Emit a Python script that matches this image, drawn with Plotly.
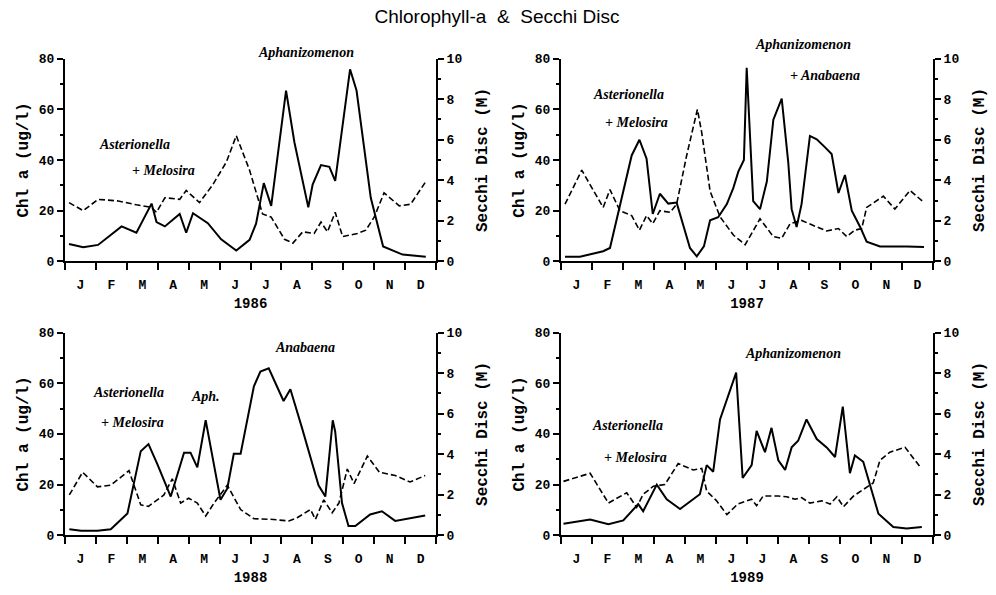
import plotly.graph_objects as go

# ---------------- data ----------------
months = ["J", "F", "M", "A", "M", "J", "J", "A", "S", "O", "N", "D"]
years = ["1986", "1987", "1988", "1989"]

# time in months from 1 January, Chl-a in ug/l
chl_t_1986 = [0.13, 0.59, 1.07, 1.83, 2.31, 2.80, 2.96, 3.23, 3.71, 3.92, 4.14, 4.62, 5.05, 5.54, 5.97,
              6.18, 6.43, 6.67, 7.15, 7.42, 7.87, 8.01, 8.28, 8.55, 8.74, 9.22, 9.43, 9.89, 10.29, 10.92, 11.67]
chl_1986 = [6.9, 5.6, 6.5, 13.8, 11.3, 22.8, 15.5, 13.8, 18.7, 11.3, 19.0, 15.1, 8.7, 4.3, 8.5,
            14.9, 30.9, 21.9, 67.4, 47.0, 21.3, 30.3, 38.0, 37.3, 31.8, 75.8, 67.4, 25.1, 5.9, 2.7, 1.8]
sd_t_1986 = [0.13, 0.59, 1.07, 1.72, 2.31, 2.80, 2.96, 3.23, 3.71, 3.92, 4.35, 4.78, 5.22, 5.54, 5.97,
             6.39, 6.67, 7.10, 7.37, 7.69, 8.06, 8.28, 8.49, 8.74, 8.98, 9.46, 9.73, 10.0, 10.32, 10.81, 11.18, 11.67]
sd_1986 = [2.9, 2.5, 3.06, 2.98, 2.79, 2.66, 2.42, 3.14, 3.06, 3.5, 2.9, 3.78, 4.9, 6.2, 4.5,
           2.34, 2.18, 1.09, 0.9, 1.46, 1.38, 1.94, 1.46, 2.42, 1.22, 1.38, 1.54, 2.18, 3.38, 2.74, 2.82, 3.94]

chl_t_1987 = [0.13, 0.61, 1.36, 1.58, 2.28, 2.53, 2.76, 2.96, 3.19, 3.46, 3.73, 4.16, 4.38, 4.61, 4.81,
              5.07, 5.35, 5.56, 5.72, 5.90, 5.99, 6.04, 6.20, 6.42, 6.64, 6.85, 7.12, 7.33, 7.44, 7.60, 7.76,
              8.03, 8.25, 8.52, 8.73, 8.95, 9.16, 9.38, 9.65, 9.86, 10.29, 11.15, 11.71]
chl_1987 = [1.8, 1.8, 4.0, 5.3, 41.8, 48.0, 40.5, 18.7, 26.7, 22.8, 23.2, 5.3, 2.0, 5.9, 16.2,
            17.4, 22.6, 29.0, 35.4, 40.0, 76.4, 63.6, 23.8, 20.6, 31.5, 55.9, 64.2, 39.2, 20.6, 13.6, 22.6,
            49.5, 48.2, 45.0, 42.4, 27.0, 34.1, 20.0, 13.6, 7.8, 5.9, 5.9, 5.7]
sd_t_1987 = [0.13, 0.67, 1.36, 1.58, 1.90, 2.28, 2.53, 2.76, 2.96, 3.19, 3.52, 3.73, 4.05, 4.40, 4.54,
             4.81, 5.13, 5.56, 5.94, 6.42, 6.85, 7.12, 7.39, 7.76, 8.25, 8.57, 8.95, 9.22, 9.48, 9.70, 9.86,
             10.40, 10.77, 11.26, 11.71]
sd_1987 = [2.82, 4.5, 2.66, 3.54, 2.5, 2.26, 1.54, 2.26, 1.86, 2.5, 2.42, 2.82, 5.2, 7.5, 6.35,
           3.46, 2.2, 1.3, 0.82, 2.1, 1.22, 1.14, 1.86, 2.02, 1.7, 1.5, 1.62, 1.22, 1.54, 1.62, 2.66,
           3.22, 2.58, 3.5, 2.9]

chl_t_1988 = [0.14, 0.52, 1.05, 1.48, 2.02, 2.45, 2.70, 2.99, 3.42, 3.85, 4.06, 4.28, 4.55, 4.71, 5.03,
              5.25, 5.46, 5.68, 6.11, 6.32, 6.59, 7.07, 7.29, 7.67, 7.94, 8.20, 8.42, 8.66, 8.74, 8.96,
              9.17, 9.39, 9.87, 10.25, 10.68, 11.11, 11.65]
chl_1988 = [2.4, 1.8, 1.8, 2.4, 8.6, 33.2, 36.0, 28.0, 15.3, 32.6, 32.6, 26.8, 45.4, 34.5, 14.0,
            18.5, 32.2, 32.2, 58.8, 64.6, 65.9, 53.0, 57.6, 42.2, 30.6, 19.7, 15.3, 45.4, 40.9, 12.7,
            3.7, 3.7, 8.2, 9.5, 5.7, 6.5, 7.8]
sd_t_1988 = [0.14, 0.57, 1.05, 1.48, 2.07, 2.45, 2.70, 3.20, 3.47, 3.74, 4.00, 4.28, 4.55, 4.82, 5.25,
             5.68, 6.11, 6.65, 7.24, 7.51, 7.94, 8.10, 8.37, 8.64, 8.86, 9.13, 9.35, 9.78, 10.17, 10.68,
             11.16, 11.65]
sd_1988 = [1.99, 3.11, 2.39, 2.47, 3.19, 1.5, 1.43, 1.99, 2.79, 1.59, 1.83, 1.59, 0.95, 1.59, 2.47,
           1.27, 0.82, 0.79, 0.71, 0.87, 1.27, 0.79, 1.75, 1.11, 1.59, 3.27, 2.55, 3.91, 3.11, 2.95,
           2.63, 2.95]

chl_t_1989 = [0.08, 0.94, 1.53, 2.01, 2.49, 2.65, 3.09, 3.41, 3.84, 4.48, 4.70, 4.91, 5.13, 5.35, 5.65,
              5.86, 6.15, 6.31, 6.58, 6.79, 7.01, 7.23, 7.44, 7.65, 7.92, 8.25, 8.57, 8.84, 9.09, 9.32,
              9.48, 9.75, 9.97, 10.24, 10.72, 11.15, 11.64]
chl_1989 = [4.6, 6.2, 4.4, 5.9, 12.3, 9.5, 20.0, 14.2, 10.4, 16.2, 27.7, 25.1, 45.7, 53.3, 64.2,
            22.6, 27.7, 41.2, 32.8, 42.4, 29.6, 25.8, 34.7, 37.3, 45.7, 38.0, 34.7, 30.9, 50.8, 24.5,
            31.5, 29.0, 20.0, 8.5, 3.3, 2.7, 3.3]
sd_t_1989 = [0.08, 0.94, 1.53, 2.12, 2.44, 2.65, 2.98, 3.35, 3.78, 4.27, 4.54, 4.70, 5.02, 5.35, 5.70,
             6.15, 6.31, 6.52, 7.01, 7.28, 7.55, 7.76, 8.03, 8.41, 8.68, 8.90, 9.11, 9.44, 9.75, 10.07,
             10.29, 10.61, 11.10, 11.58]
sd_1989 = [2.66, 3.06, 1.59, 2.1, 1.38, 2.02, 2.42, 2.5, 3.54, 3.22, 3.3, 2.18, 1.7, 1.02, 1.54,
           1.78, 1.46, 1.94, 1.94, 1.9, 1.78, 1.86, 1.59, 1.7, 1.54, 1.9, 1.41, 1.94, 2.26, 2.58,
           3.7, 4.1, 4.34, 3.38]

chl_t = [chl_t_1986, chl_t_1987, chl_t_1988, chl_t_1989]
chl = [chl_1986, chl_1987, chl_1988, chl_1989]
sd_t = [sd_t_1986, sd_t_1987, sd_t_1988, sd_t_1989]
sd = [sd_1986, sd_1987, sd_1988, sd_1989]

chl_ticks = [0, 20, 40, 60, 80]
chl_minor = [10, 30, 50, 70]
sd_ticks = [0, 2, 4, 6, 8, 10]
sd_minor = [1, 3, 5, 7, 9]
CHL_MAX = 80
SD_MAX = 10

# species labels per panel: (text, month, chl level)
species = [
    [("Asterionella", 2.26, 46.3), ("+ Melosira", 3.19, 35.8), ("Aphanizomenon", 7.81, 82.5)],
    [("Asterionella", 2.19, 65.9), ("+ Melosira", 2.42, 55.0), ("Aphanizomenon", 7.81, 85.4),
     ("+ Anabaena", 8.52, 73.2)],
    [("Asterionella", 2.06, 56.2), ("+ Melosira", 2.19, 44.6), ("Aph.", 4.55, 54.7), ("Anabaena", 7.77, 74.2)],
    [("Asterionella", 2.16, 43.5), ("+ Melosira", 2.39, 30.8), ("Aphanizomenon", 7.48, 71.9)],
]

# ---------------- layout ----------------
W, H = 996, 595
xdoms = [[65 / W, 436 / W], [561 / W, 933 / W], [65 / W, 436 / W], [561 / W, 933 / W]]
ytop = [1 - 262 / H, 1 - 54 / H]
ybot = [1 - 543 / H, 1 - 335 / H]
ydoms = [ytop, ytop, ybot, ybot]

MONO = "Liberation Mono, DejaVu Sans Mono, monospace"
tickfont = dict(family=MONO, size=13, color="black", weight="bold")
titlefont = dict(family=MONO, size=16, color="black", weight="bold")
labfont = dict(family="Liberation Serif, DejaVu Serif, serif", size=14, color="black",
               style="italic", weight="bold")

fig = go.Figure()
layout = dict(
    width=W, height=H, margin=dict(l=0, r=0, t=0, b=0),
    paper_bgcolor="white", plot_bgcolor="white", showlegend=False,
    title=dict(text="Chlorophyll-a\u00a0\u00a0&\u00a0\u00a0Secchi Disc", x=0.499, y=1 - 16 / H,
               xanchor="center", yanchor="middle",
               font=dict(family="Liberation Sans, Arial, sans-serif", size=19, color="black")),
)
annotations = []

for i in range(4):
    n = i + 1
    xa = "x" if n == 1 else f"x{n}"
    yl_n = 2 * i + 1
    yr_n = 2 * i + 2
    yl = "y" if yl_n == 1 else f"y{yl_n}"
    yr = f"y{yr_n}"

    fig.add_trace(go.Scatter(x=chl_t[i], y=chl[i], mode="lines", xaxis=xa, yaxis=yl,
                             line=dict(color="black", width=2), hoverinfo="skip"))
    fig.add_trace(go.Scatter(x=sd_t[i], y=sd[i], mode="lines", xaxis=xa, yaxis=yr,
                             line=dict(color="black", width=1.6, dash="6px,3px"), hoverinfo="skip"))

    layout["xaxis" if n == 1 else f"xaxis{n}"] = dict(
        domain=xdoms[i], anchor=yl, range=[0, 12], showgrid=False, zeroline=False,
        showline=True, linecolor="black", linewidth=2,
        tickmode="array", tickvals=[k + 0.5 for k in range(12)], ticktext=months,
        ticks="outside", ticklen=10, tickcolor="rgba(0,0,0,0)", tickfont=tickfont,
        minor=dict(tickmode="array", tickvals=list(range(13)), ticks="outside", ticklen=7,
                   tickwidth=2, tickcolor="black", showgrid=False),
        title=dict(text=years[i], font=dict(family=MONO, size=14, color="black", weight="bold"),
                   standoff=6),
        fixedrange=True,
    )
    layout["yaxis" if yl_n == 1 else f"yaxis{yl_n}"] = dict(
        domain=ydoms[i], anchor=xa, range=[0, CHL_MAX], showgrid=False, zeroline=False,
        showline=True, linecolor="black", linewidth=2,
        tickmode="array", tickvals=chl_ticks, ticks="outside", ticklen=6, tickwidth=2,
        tickcolor="black", tickfont=tickfont,
        minor=dict(tickmode="array", tickvals=chl_minor, ticks="outside", ticklen=3,
                   tickwidth=1.5, tickcolor="black", showgrid=False),
        title=dict(text="Chl a (ug/l)", font=titlefont, standoff=6),
        fixedrange=True,
    )
    layout[f"yaxis{yr_n}"] = dict(
        overlaying=yl, side="right", anchor=xa, range=[0, SD_MAX], showgrid=False, zeroline=False,
        showline=True, linecolor="black", linewidth=2,
        tickmode="array", tickvals=sd_ticks, ticks="outside", ticklen=6, tickwidth=2,
        tickcolor="black", tickfont=tickfont,
        minor=dict(tickmode="array", tickvals=sd_minor, ticks="outside", ticklen=3,
                   tickwidth=1.5, tickcolor="black", showgrid=False),
        title=dict(text="Secchi Disc (M)", font=titlefont, standoff=14),
        fixedrange=True,
    )
    for (txt, mx, my) in species[i]:
        annotations.append(dict(text=txt, x=mx, y=my / CHL_MAX, xref=xa, yref=f"{yl} domain",
                                showarrow=False, xanchor="center", yanchor="middle", font=labfont))

layout["annotations"] = annotations
fig.update_layout(**layout)
fig.write_html("out.html", config={"displayModeBar": False},
               post_script="document.body.style.margin='0px';document.body.style.overflow='hidden';")
